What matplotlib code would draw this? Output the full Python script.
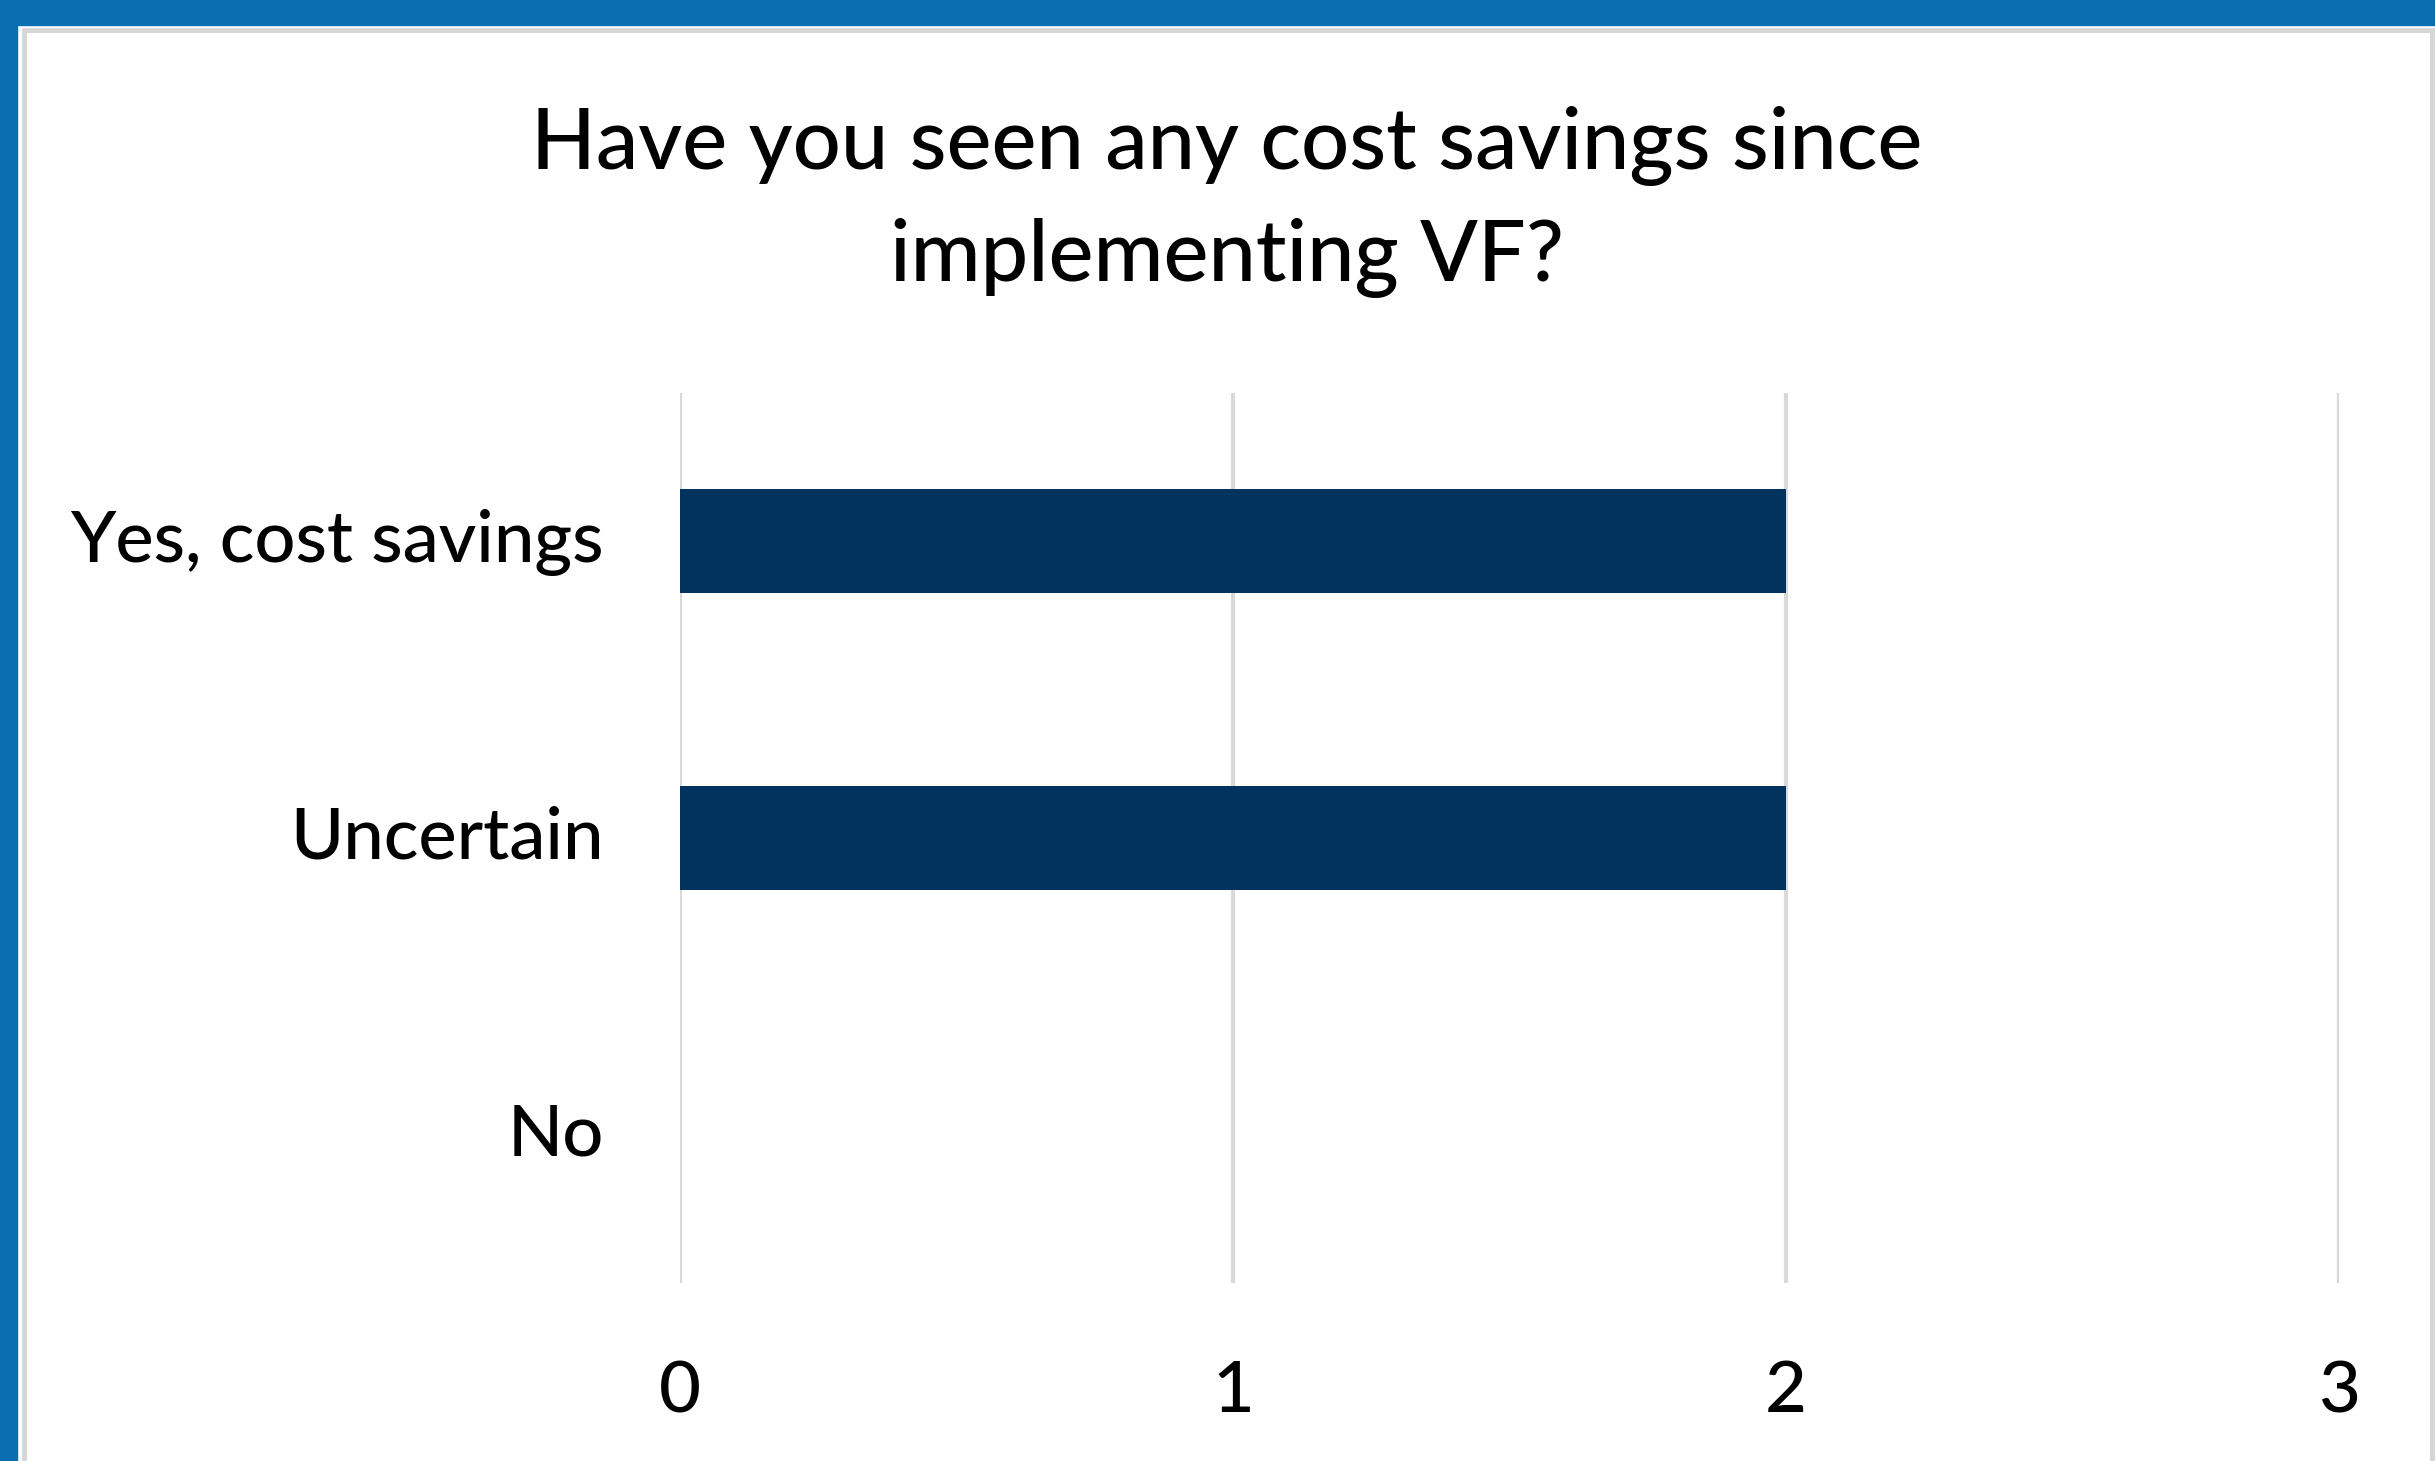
import matplotlib
matplotlib.use('Agg')
import matplotlib.pyplot as plt
import matplotlib.transforms as mtrans
from matplotlib.patches import Rectangle
import numpy as np

categories = ['Yes, cost savings', 'Uncertain', 'No']
counts = [2, 2, 0]
xticks = [0, 1, 2, 3]
title = "Have you seen any cost savings since\nimplementing VF?"

bar_color = '#02335f'
grid_color = '#d9d9d9'
frame_blue = '#0a6fb0'
font = 'Lato'
fsize = 52
tsize = 61

fig = plt.figure(figsize=(24.35, 14.61), dpi=100)
W, H = 2435., 1461.

# blue page border on top and left, grey frame of the chart area
fig.patches.append(Rectangle((0, 1 - 25/H), 1, 25/H, transform=fig.transFigure,
                             color=frame_blue, zorder=0))
fig.patches.append(Rectangle((0, 0), 17/W, 1, transform=fig.transFigure,
                             color=frame_blue, zorder=0))
fig.patches.append(Rectangle((24/W, -0.01), (2432-24)/W, 1.01 - 30/H,
                             transform=fig.transFigure, fill=False,
                             edgecolor='#d6d6d6', linewidth=3.5, zorder=1))

ax = fig.add_axes([680/W, 1 - 1283/H, (2339-680)/W, (1283-393)/H])
y = np.arange(len(categories))
ax.barh(y, counts, height=0.35, color=bar_color, zorder=3)
ax.set_ylim(len(categories) - 0.5, -0.5)
ax.set_xlim(0, 3)
ax.set_xticks(xticks)
ax.set_yticks(y)
ax.set_yticklabels(categories)
ax.xaxis.grid(True, color=grid_color, linewidth=3, zorder=0)
ax.set_axisbelow(True)
for s in ax.spines.values():
    s.set_visible(False)
ax.tick_params(axis='both', length=0, labelsize=fsize, colors='black')
ax.tick_params(axis='x', pad=55)
ax.tick_params(axis='y', pad=55)
# nudge category labels up a little
shift = mtrans.ScaledTranslation(0, 4/72, fig.dpi_scale_trans)
for lab in ax.get_yticklabels():
    lab.set_transform(lab.get_transform() + shift)
for lab in ax.get_xticklabels() + ax.get_yticklabels():
    lab.set_fontfamily(font)
    lab.set_fontweight(500)

fig.text(1227/W, 1 - 202/H, title, ha='center', va='center', fontsize=tsize,
         family=font, fontweight=500, linespacing=1.5)

plt.savefig('out.png', dpi=100)
